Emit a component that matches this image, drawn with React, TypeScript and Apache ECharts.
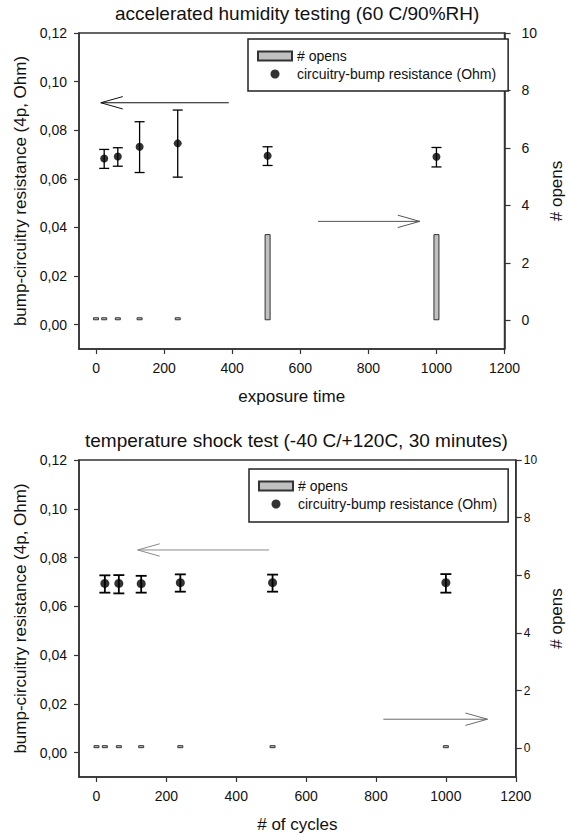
import React, { useEffect, useRef } from 'react';
import * as echarts from 'echarts';

// ---------- data ----------
const opensX = [0, 24, 64, 128, 240, 504, 1000];
const resistanceX = [24, 64, 128, 240, 504, 1000];

const humidityOpens = [0, 0, 0, 0, 0, 3, 3];
const humidityRes = [0.0684, 0.0692, 0.0732, 0.0746, 0.0695, 0.0691];
const humidityHigh = [0.0721, 0.0728, 0.0835, 0.0883, 0.0732, 0.0729];
const humidityLow = [0.0643, 0.0652, 0.0626, 0.0607, 0.0655, 0.0649];

const shockOpens = [0, 0, 0, 0, 0, 0, 0];
const shockRes = [0.0694, 0.0694, 0.0693, 0.0697, 0.0697, 0.0697];
const shockHigh = [0.0727, 0.0728, 0.0725, 0.0731, 0.073, 0.0732];
const shockLow = [0.0656, 0.0653, 0.0656, 0.066, 0.066, 0.0656];

const xTicks = [0, 200, 400, 600, 800, 1000, 1200];
const leftTicks = [0, 0.02, 0.04, 0.06, 0.08, 0.1, 0.12];
const rightTicks = [0, 2, 4, 6, 8, 10];

// arrows: [x from, y from, x to (tip), y to] in axis units (left axis)
const humidityArrows = [
  [390, 0.0913, 14, 0.0913],
  [652, 0.0425, 951, 0.0425],
];
const humidityArrowColors = ['#111111', '#555555'];
const shockArrows = [
  [494, 0.0831, 118, 0.0831],
  [821, 0.0137, 1119, 0.0137],
];
const shockArrowColors = ['#8a8a8a', '#6a6a6a'];

const titles = [
  'accelerated humidity testing (60 C/90%RH)',
  'temperature shock test (-40 C/+120C, 30 minutes)',
];
const xNames = ['exposure time', '# of cycles'];
const yLeftName = 'bump-circuitry resistance (4p, Ohm)';
const yRightName = '# opens';
const opensName = '# opens';
const resName = 'circuitry-bump resistance (Ohm)';

const FONT = 'Liberation Sans, Arial, Helvetica, sans-serif';
const AXIS_COLOR = '#333333';

function errorBarItem(capHalf: number, lw: number) {
  return (params: any, api: any) => {
    const x = api.value(0);
    const lo = api.coord([x, api.value(1)]);
    const hi = api.coord([x, api.value(2)]);
    const st = { stroke: '#000', lineWidth: lw };
    return {
      type: 'group',
      children: [
        { type: 'line', shape: { x1: lo[0], y1: lo[1], x2: hi[0], y2: hi[1] }, style: st },
        { type: 'line', shape: { x1: lo[0] - capHalf, y1: lo[1], x2: lo[0] + capHalf, y2: lo[1] }, style: st },
        { type: 'line', shape: { x1: hi[0] - capHalf, y1: hi[1], x2: hi[0] + capHalf, y2: hi[1] }, style: st },
      ],
    };
  };
}

function arrowItem(colors: string[]) {
  return (params: any, api: any) => {
    const p1 = api.coord([api.value(0), api.value(1)]);
    const p2 = api.coord([api.value(2), api.value(3)]);
    const dx = p2[0] - p1[0];
    const dy = p2[1] - p1[1];
    const len = Math.hypot(dx, dy) || 1;
    const ux = dx / len;
    const uy = dy / len;
    const hl = 22;
    const hw = 6.2;
    const bx = p2[0] - ux * hl;
    const by = p2[1] - uy * hl;
    const color = colors[params.dataIndex];
    return {
      type: 'group',
      children: [
        {
          type: 'line',
          shape: { x1: p1[0], y1: p1[1], x2: p2[0], y2: p2[1] },
          style: { stroke: color, lineWidth: 1 },
        },
        {
          type: 'polyline',
          shape: { points: [[bx - uy * hw, by + ux * hw], [p2[0], p2[1]], [bx + uy * hw, by - ux * hw]] },
          style: { stroke: color, fill: null, lineWidth: 1 },
        },
      ],
    };
  };
}

function buildAxes(gi: number, rightLabelSize: number, rightMargin: number) {
  const x = {
    type: 'value',
    gridIndex: gi,
    min: -50,
    max: 1200,
    name: xNames[gi],
    nameLocation: 'middle',
    nameGap: 39,
    nameTextStyle: { fontSize: 17, color: '#111', fontFamily: FONT },
    axisLine: { show: true, onZero: false, lineStyle: { color: AXIS_COLOR, width: 1.5 } },
    axisTick: { show: true, inside: false, length: 5, customValues: xTicks, lineStyle: { color: AXIS_COLOR, width: 1.2 } },
    axisLabel: {
      customValues: xTicks,
      margin: 12,
      fontSize: 14,
      color: '#111',
      fontFamily: FONT,
      formatter: (v: number) => String(v),
    },
    splitLine: { show: false },
  };
  const yl = {
    type: 'value',
    gridIndex: gi,
    position: 'left',
    min: -0.01,
    max: 0.12,
    name: yLeftName,
    nameLocation: 'middle',
    nameRotate: 90,
    nameGap: 48,
    nameTextStyle: { fontSize: 17, color: '#111', fontFamily: FONT },
    axisLine: { show: true, onZero: false, lineStyle: { color: AXIS_COLOR, width: 1.5 } },
    axisTick: { show: true, inside: false, length: 5, customValues: leftTicks, lineStyle: { color: AXIS_COLOR, width: 1.2 } },
    axisLabel: {
      customValues: leftTicks,
      margin: 12,
      fontSize: 14,
      color: '#111',
      fontFamily: FONT,
      formatter: (v: number) => v.toFixed(2).replace('.', ','),
    },
    splitLine: { show: false },
  };
  const yr = {
    type: 'value',
    gridIndex: gi,
    position: 'right',
    min: -1,
    max: 10,
    name: yRightName,
    nameLocation: 'middle',
    nameRotate: 90,
    nameGap: 30,
    nameTextStyle: { fontSize: 17, color: '#111', fontFamily: FONT },
    axisLine: { show: true, onZero: false, lineStyle: { color: AXIS_COLOR, width: 1.5 } },
    axisTick: { show: true, inside: false, length: 6, customValues: rightTicks, lineStyle: { color: AXIS_COLOR, width: 1.2 } },
    axisLabel: {
      customValues: rightTicks,
      margin: rightMargin,
      fontSize: rightLabelSize,
      color: '#111',
      fontFamily: FONT,
      formatter: (v: number) => String(v),
    },
    splitLine: { show: false },
  };
  return { x, yl, yr };
}

function buildSeries(
  gi: number,
  opens: number[],
  res: number[],
  high: number[],
  low: number[],
  arrows: number[][],
  arrowColors: string[],
  dotSize: number,
  capHalf: number,
  errLw: number
) {
  const xi = gi;
  const yli = gi * 2;
  const yri = gi * 2 + 1;
  return [
    {
      type: 'bar',
      name: opensName,
      xAxisIndex: xi,
      yAxisIndex: yri,
      barWidth: 6,
      barMinHeight: 3,
      data: opensX.map((x, i) => [x, opens[i]]),
      itemStyle: { color: '#c0c0c0', borderColor: '#333', borderWidth: 1 },
      z: 2,
    },
    {
      type: 'custom',
      name: 'error-' + gi,
      xAxisIndex: xi,
      yAxisIndex: yli,
      data: resistanceX.map((x, i) => [x, low[i], high[i]]),
      encode: { x: 0, y: [1, 2] },
      renderItem: errorBarItem(capHalf, errLw),
      silent: true,
      z: 3,
    },
    {
      type: 'scatter',
      name: resName,
      xAxisIndex: xi,
      yAxisIndex: yli,
      symbol: 'circle',
      symbolSize: dotSize,
      data: resistanceX.map((x, i) => [x, res[i]]),
      itemStyle: { color: '#000' },
      z: 4,
    },
    {
      type: 'custom',
      name: 'arrows-' + gi,
      xAxisIndex: xi,
      yAxisIndex: yli,
      data: arrows,
      encode: { x: [0, 2], y: [1, 3] },
      renderItem: arrowItem(arrowColors),
      silent: true,
      clip: false,
      z: 1,
    },
  ];
}

function buildLegend(left: number, top: number, padding: number[]) {
  return {
    orient: 'vertical',
    left,
    top,
    padding,
    itemGap: 4,
    itemWidth: 34,
    itemHeight: 9,
    borderColor: '#222',
    borderWidth: 1.5,
    backgroundColor: '#fff',
    textStyle: { fontSize: 14, color: '#111', fontFamily: FONT },
    selectedMode: false,
    data: [
      { name: opensName, icon: 'rect' },
      { name: resName, icon: 'circle' },
    ],
  };
}

export default function App() {
  const ref = useRef<HTMLDivElement>(null);
  useEffect(() => {
    if (!ref.current) return;
    const chart = echarts.init(ref.current, undefined, { renderer: 'svg' });
    const a0 = buildAxes(0, 14, 17);
    const a1 = buildAxes(1, 12, 8);
    const option: any = {
      animation: false,
      backgroundColor: '#ffffff',
      textStyle: { fontFamily: FONT },
      title: [
        {
          text: titles[0],
          left: 115,
          top: 4,
          padding: 0,
          textStyle: { fontSize: 19, fontWeight: 'normal', color: '#111', fontFamily: FONT },
        },
        {
          text: titles[1],
          left: 85,
          top: 431,
          padding: 0,
          textStyle: { fontSize: 19, fontWeight: 'normal', color: '#111', fontFamily: FONT },
        },
      ],
      legend: [buildLegend(248, 39, [10, 12, 10, 9]), buildLegend(249, 469, [10, 11, 11, 9])],
      grid: [
        { left: 79, top: 33, width: 438, height: 316, show: true, borderColor: AXIS_COLOR, borderWidth: 1.5, backgroundColor: 'transparent' },
        { left: 79, top: 460, width: 440, height: 317, show: true, borderColor: AXIS_COLOR, borderWidth: 1.5, backgroundColor: 'transparent' },
      ],
      xAxis: [a0.x, a1.x],
      yAxis: [a0.yl, a0.yr, a1.yl, a1.yr],
      series: [
        ...buildSeries(0, humidityOpens, humidityRes, humidityHigh, humidityLow, humidityArrows, humidityArrowColors, 8, 5, 1.3),
        ...buildSeries(1, shockOpens, shockRes, shockHigh, shockLow, shockArrows, shockArrowColors, 9, 5.5, 1.8),
      ],
    };
    chart.setOption(option);
    return () => chart.dispose();
  }, []);
  return (
    <div
      ref={ref}
      style={{ position: 'absolute', left: 0, top: 0, width: 573, height: 838, background: '#fff' }}
    />
  );
}
